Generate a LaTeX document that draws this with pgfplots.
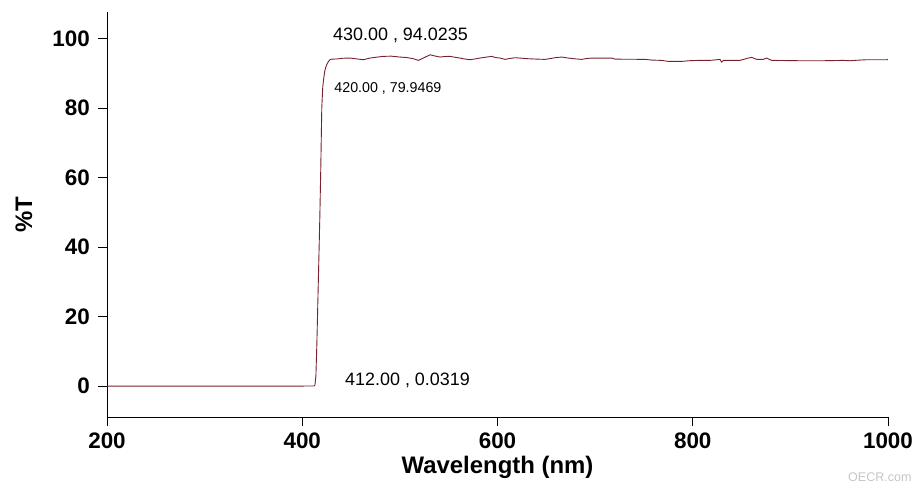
\documentclass[border=0pt]{standalone}
\usepackage{pgfplots}
\pgfplotsset{compat=1.18}
\usepackage{fontspec}
\setmainfont{Liberation Sans}
\definecolor{traceRed}{RGB}{120,32,45}
\begin{document}
\begin{tikzpicture}
\path[use as bounding box] (0,0) rectangle (920bp,487bp);
\begin{axis}[
  at={(107bp,70bp)}, anchor=south west,
  scale only axis, width=781bp, height=405bp,
  xmin=200, xmax=1000, ymin=-8.9, ymax=107.6,
  axis lines=left,
  axis line style={-, black, line width=0.8bp},
  tick align=outside, major tick length=9bp,
  tick style={black, line width=0.8bp},
  xtick={200,400,600,800,1000}, ytick={0,20,40,60,80,100},
  minor tick num=0,
  scaled ticks=false,
  /pgf/number format/assume math mode=true,
  /pgf/number format/1000 sep={},
  ticklabel style={font=\bfseries\fontsize{22.5}{22.5}\selectfont},
  xticklabel style={inner sep=0pt, yshift=-7bp},
  yticklabel style={inner sep=0pt, xshift=-8bp},
  xlabel={Wavelength (nm)}, ylabel={\%T},
  label style={font=\bfseries\fontsize{24}{24}\selectfont},
  xlabel style={at={(axis description cs:0.5,0)}, anchor=center, yshift=-50bp},
  ylabel style={at={(axis description cs:-0.1063,0.5)}, anchor=center},
  clip=false,
]
\addplot[traceRed, line width=0.9bp] coordinates {
  (200,0) (250,0) (300,0) (350,0) (400,0) (411,0.02) (412,0.0319)
  (413,0.3) (414,3) (415,12.5) (416,24.5) (417,36.5) (418,48.5) (419,63)
  (420,79.9469) (421,86) (422,88.5) (423,90.5) (424,91.6) (425,92.4)
  (426.5,93.2) (428.4,93.9) (430,94.0235)
  (436,94.1) (442,94.3) (449,94.35) (456,94.1) (462.5,93.87) (469.4,94.35)
  (476,94.6) (483,94.83) (491,94.9) (500,94.64) (507,94.5) (513.8,94.16)
  (518.9,93.68) (523,94.2) (527.5,94.83) (530.9,95.3) (535,95.0) (541.1,94.64)
  (546,94.8) (551.3,94.83) (556,94.6) (561.6,94.35) (566,94.1) (571.8,93.87)
  (577,94.1) (582.1,94.35) (588,94.6) (594,94.83) (598,94.5) (602.6,94.35)
  (607.7,93.97) (612,94.2) (617.9,94.45) (625,94.3) (631.6,94.16) (640,94.05)
  (648.6,93.97) (654,94.2) (658.9,94.45) (665.7,94.64) (672.5,94.35) (680,94.1)
  (686.2,93.97) (691,94.2) (696.5,94.35) (705,94.35) (717,94.35) (720.4,94.06)
  (730,94.0) (740,94.0) (751.1,93.97) (757.9,93.77) (768.2,93.68) (775,93.39)
  (788.7,93.39) (797.2,93.6) (807,93.68) (817.7,93.68) (827.9,93.97) (829.6,93.2)
  (831.3,93.68) (848.4,93.68) (856.9,94.35) (860.4,94.54) (865.5,93.97)
  (872.3,93.97) (875.7,94.35) (880.8,93.68) (909.9,93.58) (933.7,93.58)
  (954.2,93.68) (961.1,93.58) (970,93.75) (978.2,93.87) (998.6,93.87) (1000,93.9)
};
\node[anchor=west, inner sep=0pt, font=\fontsize{18}{18}\selectfont]
  at (axis cs:431.5,100.9) {430.00 , 94.0235};
\node[anchor=west, inner sep=0pt, font=\fontsize{14.3}{14.3}\selectfont]
  at (axis cs:432.8,85.6) {420.00 , 79.9469};
\node[anchor=west, inner sep=0pt, font=\fontsize{18}{18}\selectfont]
  at (axis cs:443.8,1.72) {412.00 , 0.0319};
\end{axis}
\node[anchor=base west, inner sep=0pt, text=gray!45, font=\fontsize{12.6}{12.6}\selectfont]
  at (848bp,5.3bp) {OECR.com};
\end{tikzpicture}
\end{document}
